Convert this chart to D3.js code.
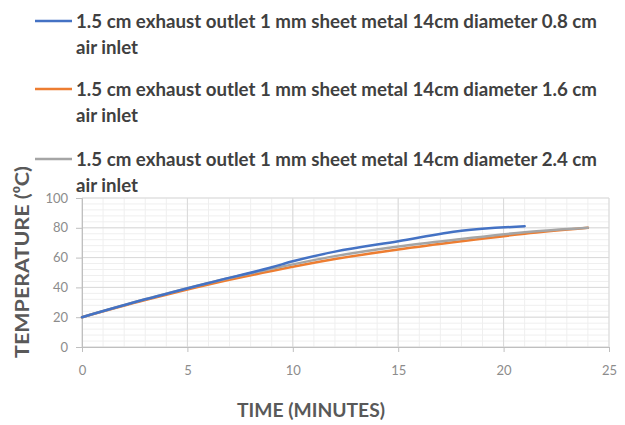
<!doctype html>
<html lang="en">
<head>
<meta charset="utf-8">
<title>Temperature vs time</title>
<script src="https://d3js.org/d3.v7.min.js"></script>
<style>
  body { margin: 0; background: #fff; }
  svg { display: block; font-family: Lato, "Open Sans", sans-serif; }
</style>
</head>
<body>
<script>
// series labels, split over two lines like the original legend
var seriesNames = [
  ["1.5 cm exhaust outlet 1 mm sheet metal 14cm diameter 0.8 cm", "air inlet"],
  ["1.5 cm exhaust outlet 1 mm sheet metal 14cm diameter 1.6 cm", "air inlet"],
  ["1.5 cm exhaust outlet 1 mm sheet metal 14cm diameter 2.4 cm", "air inlet"]
];
var seriesColors = ["#4472c4", "#ed7d31", "#a5a5a5"];

// time in minutes and temperature in degC
var timeBlue = [0, 3, 6, 9, 10, 12, 15, 18, 21];
var tempBlue = [20, 32, 43, 53.5, 57.5, 64, 71, 78, 81];
var timeOrange = [0, 3, 6, 9, 12, 15, 18, 21, 24];
var tempOrange = [20, 31.5, 42, 51, 59, 65.5, 71, 76, 80];
var timeGray = [0, 3, 6, 9, 12, 15, 18, 21, 24];
var tempGray = [20, 32, 43, 52.5, 61, 67.5, 72.5, 77, 80];

var xTicks = [0, 5, 10, 15, 20, 25];
var yTicks = [0, 20, 40, 60, 80, 100];

var width = 625, height = 425;
var plotLeft = 82, plotRight = 609, plotTop = 198, plotBottom = 347;

var svg = d3.select("body").append("svg")
  .attr("width", width)
  .attr("height", height);

var x = d3.scaleLinear().domain([0, 25]).range([plotLeft, plotRight]);
var y = d3.scaleLinear().domain([0, 100]).range([plotBottom, plotTop]);

// minor grid
svg.append("g").selectAll("line")
  .data(d3.range(0, 26, 1))
  .enter().append("line")
  .attr("x1", d => x(d)).attr("x2", d => x(d))
  .attr("y1", plotTop).attr("y2", plotBottom)
  .attr("stroke", "#efefef").attr("stroke-width", 1);
svg.append("g").selectAll("line")
  .data(d3.range(0, 101, 4))
  .enter().append("line")
  .attr("x1", plotLeft).attr("x2", plotRight)
  .attr("y1", d => y(d)).attr("y2", d => y(d))
  .attr("stroke", "#efefef").attr("stroke-width", 1);

// major grid
svg.append("g").selectAll("line")
  .data(xTicks)
  .enter().append("line")
  .attr("x1", d => x(d)).attr("x2", d => x(d))
  .attr("y1", plotTop).attr("y2", plotBottom)
  .attr("stroke", "#d9d9d9").attr("stroke-width", 1);
svg.append("g").selectAll("line")
  .data(yTicks)
  .enter().append("line")
  .attr("x1", plotLeft).attr("x2", plotRight)
  .attr("y1", d => y(d)).attr("y2", d => y(d))
  .attr("stroke", "#d9d9d9").attr("stroke-width", 1);

// axes
var xAxis = svg.append("g")
  .attr("transform", "translate(0," + plotBottom + ")")
  .call(d3.axisBottom(x).tickValues(xTicks).tickSize(5).tickPadding(14));
var yAxis = svg.append("g")
  .attr("transform", "translate(" + plotLeft + ",0)")
  .call(d3.axisLeft(y).tickValues(yTicks).tickSize(6).tickPadding(8));
[xAxis, yAxis].forEach(function(a) {
  a.select(".domain").attr("stroke", "#bfbfbf");
  a.selectAll(".tick line").attr("stroke", "#bfbfbf");
  a.selectAll("text").attr("fill", "#8c8c8c").style("font-size", "13px")
    .style("font-family", "Lato, sans-serif");
});

// series
var line = d3.line()
  .x(d => x(d[0]))
  .y(d => y(d[1]))
  .curve(d3.curveMonotoneX);
var series = [
  d3.zip(timeOrange, tempOrange),
  d3.zip(timeGray, tempGray),
  d3.zip(timeBlue, tempBlue)
];
var order = [1, 2, 0];
svg.append("g").selectAll("path")
  .data(series)
  .enter().append("path")
  .attr("d", line)
  .attr("fill", "none")
  .attr("stroke", (d, i) => seriesColors[order[i]])
  .attr("stroke-width", 2.5)
  .attr("stroke-linecap", "round");

// legend
var legendY = [22, 90, 160];
var legend = svg.append("g").selectAll("g")
  .data(seriesNames)
  .enter().append("g")
  .attr("transform", (d, i) => "translate(0," + legendY[i] + ")");
legend.append("line")
  .attr("x1", 35).attr("x2", 72)
  .attr("y1", -1).attr("y2", -1)
  .attr("stroke", (d, i) => seriesColors[i])
  .attr("stroke-width", 2.5);
legend.append("text")
  .attr("x", 76).attr("y", 6)
  .attr("fill", "#404040")
  .style("font-size", "18px")
  .style("font-weight", "bold")
  .attr("textLength", 521)
  .attr("lengthAdjust", "spacingAndGlyphs")
  .text(d => d[0]);
legend.append("text")
  .attr("x", 76).attr("y", 32)
  .attr("fill", "#404040")
  .style("font-size", "18px")
  .style("font-weight", "bold")
  .attr("textLength", 62)
  .attr("lengthAdjust", "spacingAndGlyphs")
  .text(d => d[1]);

// axis titles
svg.append("text")
  .attr("x", 311).attr("y", 417)
  .attr("text-anchor", "middle")
  .attr("fill", "#595959")
  .style("font-size", "19px")
  .style("font-weight", "bold")
  .attr("textLength", 148)
  .attr("lengthAdjust", "spacingAndGlyphs")
  .text("TIME (MINUTES)");
svg.append("text")
  .attr("transform", "translate(29,262) rotate(-90)")
  .attr("text-anchor", "middle")
  .attr("fill", "#595959")
  .style("font-size", "19px")
  .style("font-weight", "bold")
  .attr("textLength", 192)
  .attr("lengthAdjust", "spacingAndGlyphs")
  .text("TEMPERATURE (⁰C)");
</script>
</body>
</html>
